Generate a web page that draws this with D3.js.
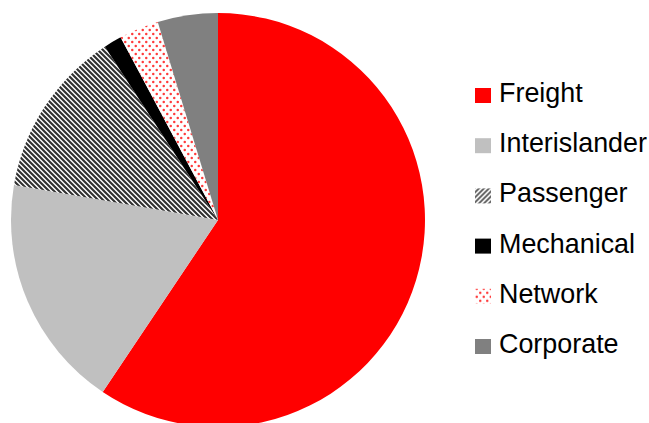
<!DOCTYPE html>
<html>
<head>
<meta charset="utf-8">
<script src="https://cdn.jsdelivr.net/npm/d3@7"></script>
<style>
  html, body { margin: 0; padding: 0; background: #fff; }
  svg { display: block; }
</style>
</head>
<body>
<svg id="chart" width="649" height="423"></svg>
<script>
// Division shares (percent of total)
const categories = ["Freight", "Interislander", "Passenger", "Mechanical", "Network", "Corporate"];
const shares = [59.4, 18.3, 13.1, 1.4, 3.1, 4.7];
const fills = ["#ff0000", "#c0c0c0", "url(#hatch)", "#000000", "url(#dots)", "#808080"];
const legendFills = ["#ff0000", "#c0c0c0", "url(#hatchKey)", "#000000", "url(#dotsKey)", "#808080"];

const svg = d3.select("#chart");
const defs = svg.append("defs");

// Wide diagonal hatch used for the Passenger slice
const hatch = defs.append("pattern")
  .attr("id", "hatch").attr("patternUnits", "userSpaceOnUse")
  .attr("width", 5).attr("height", 5);
hatch.append("rect").attr("width", 5).attr("height", 5).attr("fill", "#fff");
hatch.append("path")
  .attr("d", "M-1,-1 L6,6 M-6,-1 L1,6 M4,-1 L11,6")
  .attr("stroke", "#303030").attr("stroke-width", 2.1);

const hatchKey = defs.append("pattern")
  .attr("id", "hatchKey").attr("patternUnits", "userSpaceOnUse")
  .attr("width", 5).attr("height", 5);
hatchKey.append("rect").attr("width", 5).attr("height", 5).attr("fill", "#fff");
hatchKey.append("path")
  .attr("d", "M-1,6 L6,-1 M-6,6 L1,-1 M4,6 L11,-1")
  .attr("stroke", "#555").attr("stroke-width", 1.8);

// Dotted fill used for the Network slice
function dotPattern(id) {
  const p = defs.append("pattern")
    .attr("id", id).attr("patternUnits", "userSpaceOnUse")
    .attr("width", 7).attr("height", 8);
  p.append("rect").attr("width", 7).attr("height", 8).attr("fill", "#fff");
  [[1.75, 2], [5.25, 6]].forEach(([cx, cy]) => {
    p.append("circle").attr("cx", cx).attr("cy", cy).attr("r", 1.25).attr("fill", "#ff3b3b");
  });
}
dotPattern("dots");
dotPattern("dotsKey");

// Pie
const cx = 218, cy = 220, radius = 207;
const pie = d3.pie().sort(null).value(d => d)(shares);
const arc = d3.arc().innerRadius(0).outerRadius(radius);

svg.append("g")
  .attr("transform", `translate(${cx},${cy})`)
  .selectAll("path")
  .data(pie)
  .join("path")
  .attr("d", arc)
  .attr("fill", (d, i) => fills[i]);

// Legend
const legendY = d3.scalePoint().domain(categories).range([102, 353]);
const legend = svg.append("g")
  .selectAll("g")
  .data(categories)
  .join("g")
  .attr("transform", d => `translate(475,${legendY(d)})`);

legend.append("rect")
  .attr("x", 0).attr("y", -14)
  .attr("width", 16).attr("height", 15)
  .attr("fill", (d, i) => legendFills[i]);

legend.append("text")
  .attr("x", 24).attr("y", 0)
  .attr("font-family", "'Liberation Sans', Arial, sans-serif")
  .attr("font-size", 26.9)
  .attr("fill", "#000")
  .text(d => d);
</script>
</body>
</html>
